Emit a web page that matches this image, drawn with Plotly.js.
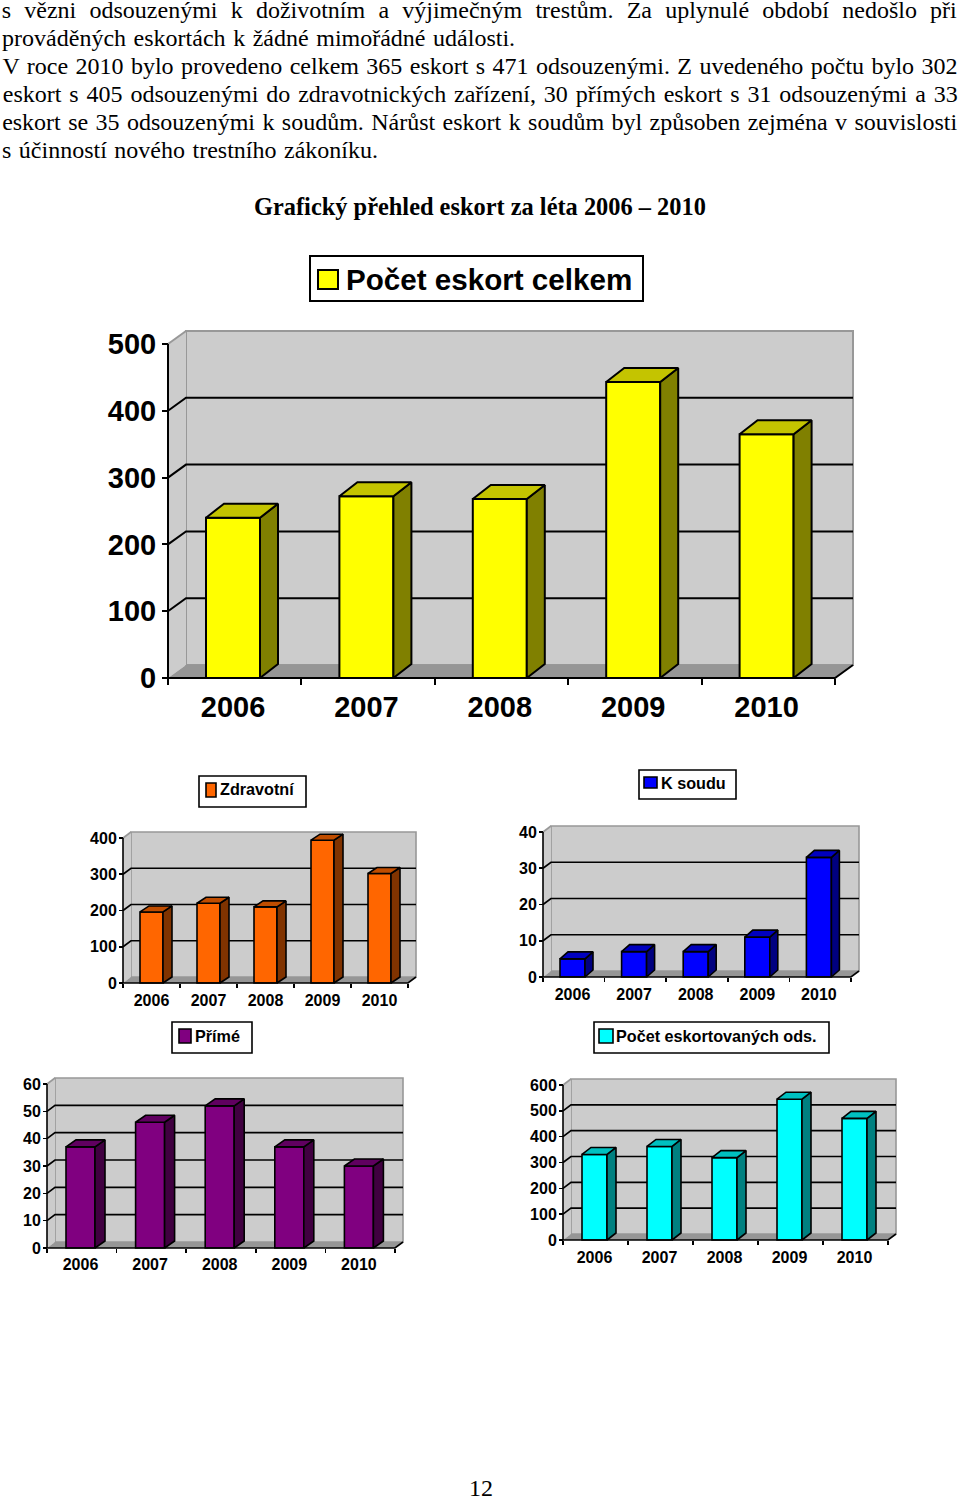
<!DOCTYPE html>
<html><head><meta charset="utf-8">
<script src="https://cdn.plot.ly/plotly-3.0.1.min.js"></script>
<style>html,body{margin:0;padding:0;background:#fff}#g{width:960px;height:1499px}</style>
</head><body><div id="g"></div>
<script>
const years = [2006, 2007, 2008, 2009, 2010];
const totalEscorts = [240, 272, 268, 443, 365];
const medicalEscorts = [196, 220, 210, 394, 302];
const courtEscorts = [5, 7, 7, 11, 33];
const directEscorts = [37, 46, 52, 37, 30];
const escortedInmates = [331, 362, 319, 545, 471];
const ticksTotal = [0, 100, 200, 300, 400, 500];
const ticksMedical = [0, 100, 200, 300, 400];
const ticksCourt = [0, 10, 20, 30, 40];
const ticksDirect = [0, 10, 20, 30, 40, 50, 60];
const ticksInmates = [0, 100, 200, 300, 400, 500, 600];
const bodyLines = [
  "s vězni odsouzenými k doživotním a výjimečným trestům. Za uplynulé období nedošlo při",
  "prováděných eskortách k žádné mimořádné události.",
  "V roce 2010 bylo provedeno celkem 365 eskort s 471 odsouzenými. Z uvedeného počtu bylo 302",
  "eskort s 405 odsouzenými do zdravotnických zařízení, 30 přímých eskort s 31 odsouzenými a 33",
  "eskort se 35 odsouzenými k soudům. Nárůst eskort k soudům byl způsoben zejména v souvislosti",
  "s účinností nového trestního zákoníku."
];
const bodyTitle = "Grafický přehled eskort za léta 2006 – 2010";
const pageNumber = "12";

const W = 960, H = 1499, PAD = 5;
const bodyLayout = [[2,957,10],[2,515,38],[2,957,66],[2,957,94],[2,957,122],[2,378,150]];

const charts = [
 {name:"Počet eskort celkem", v:totalEscorts, t:ticksTotal, L:168,R:835,y0:678,yT:344,dx:18,dy:13,bw:54,bdx:18,bdy:14,shift:-1.7,
  c:["#FFFF00","#808000","#C4C400"], fs:29, lw:2, glw:2, box:[310,643,256,301], sw:[318,338,270,289], lf:29.6, lx:345, lcy:280, xs:9, ys:0, tl:6},
 {name:"Zdravotní", v:medicalEscorts, t:ticksMedical, L:123,R:408,y0:983,yT:838,dx:8,dy:6,bw:23,bdx:9,bdy:6,shift:0,
  c:["#FF6600","#803300","#C04D00"], fs:16, lw:1.6, glw:1.7, box:[199,306,776,807], sw:[206,216,783,797], lf:16.2, lx:219, lcy:789, xs:6, ys:-1, tl:4},
 {name:"K soudu", v:courtEscorts, t:ticksCourt, L:543,R:851,y0:977,yT:832,dx:8,dy:6,bw:25,bdx:8,bdy:7,shift:-1.3,
  c:["#0000FF","#000080","#0000BF"], fs:16, lw:1.6, glw:1.7, box:[639,736,770,799], sw:[644,657,777,788], lf:16.2, lx:660, lcy:783, xs:6, ys:-1, tl:4},
 {name:"Přímé", v:directEscorts, t:ticksDirect, L:47,R:395,y0:1248,yT:1084,dx:8,dy:6,bw:29,bdx:10,bdy:7,shift:-1.3,
  c:["#800080","#400040","#600060"], fs:16, lw:1.6, glw:1.7, box:[172,252,1022,1053], sw:[179,191,1029,1043], lf:16.2, lx:194, lcy:1036, xs:5, ys:-1, tl:4},
 {name:"Počet eskortovaných ods.", v:escortedInmates, t:ticksInmates, L:563,R:888,y0:1240,yT:1085,dx:8,dy:6,bw:25,bdx:9,bdy:7,shift:-1,
  c:["#00FFFF","#008080","#00C0C0"], fs:16, lw:1.6, glw:1.7, box:[594,829,1022,1053], sw:[599,613,1029,1043], lf:16.2, lx:615, lcy:1036, xs:6, ys:-1, tl:4}
];

const SANS = "Liberation Sans, Arial, sans-serif";
const SERIF = "Liberation Serif, Times New Roman, serif";
const traces = [], shapes = [], annotations = [];
const layout = {width:W, height:H, margin:{l:0,r:0,t:0,b:0}, paper_bgcolor:"#fff", plot_bgcolor:"rgba(0,0,0,0)",
  showlegend:false, hovermode:false, shapes, annotations};

const px = x => x / W, py = y => (H - y) / H;

charts.forEach((c, idx) => {
  const id = idx ? String(idx + 1) : "";
  const xa = "x" + id, ya = "y" + id;
  const yMax = c.t[c.t.length - 1];
  const sp = (c.R - c.L) / years.length;
  const ppu = (c.y0 - c.yT) / yMax;
  const xL = years[0] - 0.5, xR = years[years.length - 1] + 0.5;
  const dxU = c.dx / sp, dyU = c.dy / ppu;
  const s = c.shift / sp;
  const cx = years.map(y => y + s);

  layout["xaxis" + id] = {
    domain:[px(c.L - PAD), px(c.R + c.dx + PAD)],
    range:[xL - PAD / sp, xR + dxU + PAD / sp],
    anchor:"free", position:py(c.y0), showgrid:false, zeroline:false, showline:false, fixedrange:true,
    tickmode:"array", tickvals:cx, ticktext:years.map(String), ticks:"", ticklen:0, ticklabelstandoff:c.xs,
    tickfont:{family:SANS, size:c.fs, color:"#000", weight:700},
    minor:{tickmode:"linear", tick0:xL, dtick:1, ticks:"outside", ticklen:c.tl, tickwidth:c.lw, tickcolor:"#000", showgrid:false}
  };
  layout["yaxis" + id] = {
    domain:[py(c.y0 + PAD), py(c.yT - c.dy - PAD)],
    range:[-PAD / ppu, yMax + dyU + PAD / ppu],
    anchor:"free", position:px(c.L), side:"left", showgrid:false, zeroline:false, showline:false, fixedrange:true,
    tickmode:"array", tickvals:c.t, ticktext:c.t.map(String), ticks:"outside", ticklen:c.tl, tickwidth:c.lw, tickcolor:"#000",
    ticklabelstandoff:c.ys, tickfont:{family:SANS, size:c.fs, color:"#000", weight:700}
  };

  const sh = (path, fill, color, width, lyr) => shapes.push({type:"path", xref:xa, yref:ya, path, layer:lyr || "below",
    fillcolor:fill || "rgba(0,0,0,0)", line:{color:color || "rgba(0,0,0,0)", width:color ? width : 0}});
  const poly = pts => "M" + pts.map(p => p[0] + "," + p[1]).join(" L") ;

  // back wall, side wall and floor
  sh(poly([[xL+dxU,dyU],[xR+dxU,dyU],[xR+dxU,yMax+dyU],[xL+dxU,yMax+dyU]]) + " Z", "#CCCCCC", "#989898", c.lw);
  sh(poly([[xL,0],[xL+dxU,dyU],[xL+dxU,yMax+dyU],[xL,yMax]]) + " Z", "#CCCCCC", null, 0);
  sh(poly([[xL,yMax],[xL+dxU,yMax+dyU]]), null, "#989898", c.lw);
  sh(poly([[xL,0],[xL+dxU,dyU],[xR+dxU,dyU],[xR,0]]) + " Z", "#969696", null, 0);
  // gridlines running over the side wall and the back wall
  c.t.slice(1, -1).forEach(v => sh(poly([[xL,v],[xL+dxU,v+dyU],[xR+dxU,v+dyU]]), null, "#000", c.glw));
  // axis lines
  sh(poly([[xL,0],[xL,yMax]]), null, "#000", c.lw, "above");
  sh(poly([[xL,0],[xR,0],[xR+dxU,dyU]]), null, "#000", c.lw, "above");

  // front faces
  traces.push({type:"bar", x:cx, y:c.v, xaxis:xa, yaxis:ya, width:c.bw / sp, hoverinfo:"skip",
    marker:{color:c.c[0], line:{color:"#000", width:c.lw}}});
  // side and top faces
  const bx = c.bdx / sp, by = c.bdy / ppu, hw = c.bw / sp / 2;
  const sideX = [], sideY = [], topX = [], topY = [];
  cx.forEach((x, i) => {
    const v = c.v[i], x0 = x - hw, x1 = x + hw;
    sideX.push(x1, x1 + bx, x1 + bx, x1, x1, null);
    sideY.push(0, by, v + by, v, 0, null);
    topX.push(x0, x0 + bx, x1 + bx, x1, x0, null);
    topY.push(v, v + by, v + by, v, v, null);
  });
  traces.push({type:"scatter", mode:"lines", x:sideX, y:sideY, xaxis:xa, yaxis:ya, fill:"toself", fillcolor:c.c[1],
    line:{color:"#000", width:c.lw}, hoverinfo:"skip"});
  traces.push({type:"scatter", mode:"lines", x:topX, y:topY, xaxis:xa, yaxis:ya, fill:"toself", fillcolor:c.c[2],
    line:{color:"#000", width:c.lw}, hoverinfo:"skip"});

  // key box
  shapes.push({type:"rect", xref:"paper", yref:"paper", x0:px(c.box[0]), x1:px(c.box[1]), y0:py(c.box[3]), y1:py(c.box[2]),
    fillcolor:"#fff", line:{color:"#000", width:c.lw}, layer:"above"});
  shapes.push({type:"rect", xref:"paper", yref:"paper", x0:px(c.sw[0]), x1:px(c.sw[1]), y0:py(c.sw[3]), y1:py(c.sw[2]),
    fillcolor:c.c[0], line:{color:"#000", width:c.lw}, layer:"above"});
  annotations.push({xref:"paper", yref:"paper", x:px(c.lx), y:py(c.lcy), xanchor:"left", yanchor:"middle", showarrow:false,
    text:c.name, borderpad:0, font:{family:SANS, size:c.lf, color:"#000", weight:700}});
});

// body text, one annotation per line centred on the line's span
bodyLines.forEach((t, i) => {
  const b = bodyLayout[i];
  annotations.push({xref:"paper", yref:"paper", x:px((b[0]+b[1])/2), y:py(b[2]), xanchor:"center", yanchor:"middle",
    showarrow:false, text:t, borderpad:0, font:{family:SERIF, size:24, color:"#000"}});
});
annotations.push({xref:"paper", yref:"paper", x:px(480), y:py(207), xanchor:"center", yanchor:"middle", showarrow:false,
  text:bodyTitle, borderpad:0, font:{family:SERIF, size:24.4, color:"#000", weight:700}});
annotations.push({xref:"paper", yref:"paper", x:px(481), y:py(1488), xanchor:"center", yanchor:"middle", showarrow:false,
  text:pageNumber, borderpad:0, font:{family:SERIF, size:24, color:"#000"}});

Plotly.newPlot("g", traces, layout, {displayModeBar:false, staticPlot:true}).then(gd => {
  gd.querySelectorAll(".annotation-text").forEach(el => {
    const i = bodyLines.indexOf(el.textContent);
    if (i < 0) return;
    const target = bodyLayout[i][1] - bodyLayout[i][0];
    const n = bodyLines[i].split(" ").length - 1;
    el.style.wordSpacing = ((target - el.getComputedTextLength()) / n) + "px";
  });
});
</script></body></html>
